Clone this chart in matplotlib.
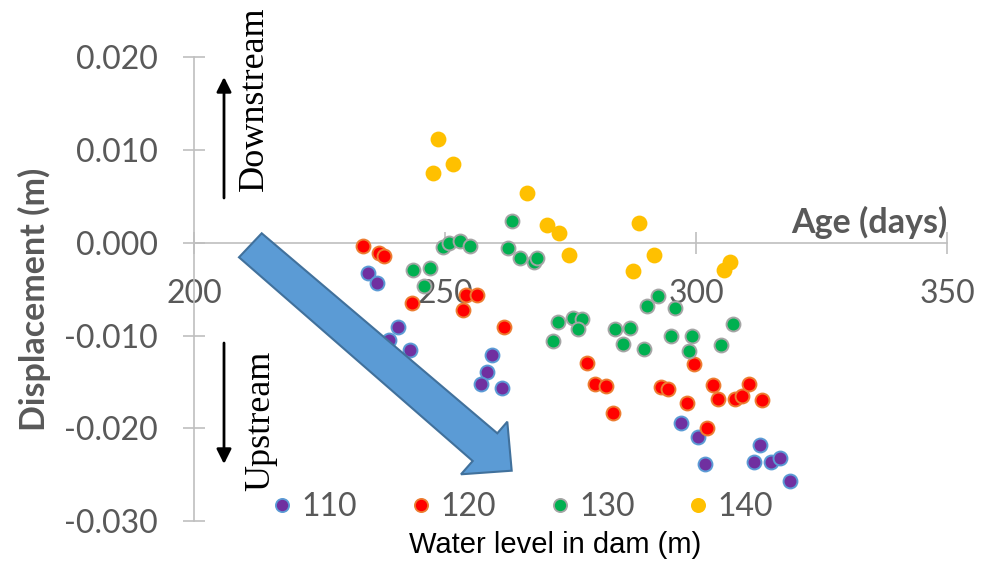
import matplotlib
matplotlib.use('Agg')
import matplotlib.pyplot as plt
from matplotlib.patches import Polygon
from matplotlib.lines import Line2D

# Age (days) / displacement (m) for each water level in the dam
age_110 = [234.7, 236.4, 240.6, 238.9, 243.0, 259.3, 258.3, 257.1, 261.3,
           297.0, 300.3, 301.8, 312.8, 311.5, 315.0, 316.7, 318.7]
disp_110 = [-0.0033, -0.0043, -0.0091, -0.0105, -0.0116, -0.0121, -0.0139, -0.0152, -0.0157,
            -0.0194, -0.0209, -0.0239, -0.0218, -0.0236, -0.0236, -0.0232, -0.0257]

age_120 = [233.7, 236.9, 237.9, 243.4, 254.1, 256.3, 253.6, 261.7, 278.2, 279.9, 282.0, 283.5,
           293.1, 294.5, 298.3, 299.7, 303.4, 304.4, 307.7, 309.1, 310.6, 313.2, 302.1]
disp_120 = [-0.0003, -0.0011, -0.0014, -0.0065, -0.0056, -0.0056, -0.0072, -0.0091, -0.0130,
            -0.0152, -0.0154, -0.0184, -0.0156, -0.0158, -0.0173, -0.0131, -0.0153, -0.0168,
            -0.0168, -0.0165, -0.0152, -0.0170, -0.0200]

age_130 = [243.7, 247.1, 245.8, 249.7, 250.7, 253.0, 255.0, 263.3, 262.5, 265.0, 267.8, 268.4,
           271.6, 272.6, 275.4, 277.3, 276.5, 283.9, 286.8, 285.5, 289.6, 290.3, 292.5, 295.0,
           295.9, 299.3, 298.6, 305.0, 307.3]
disp_130 = [-0.0029, -0.0027, -0.0047, -0.0005, 0.0000, 0.0002, -0.0004, 0.0024, -0.0006,
            -0.0016, -0.0021, -0.0016, -0.0106, -0.0085, -0.0081, -0.0082, -0.0093, -0.0093,
            -0.0092, -0.0109, -0.0115, -0.0068, -0.0057, -0.0101, -0.0070, -0.0100, -0.0117,
            -0.0110, -0.0088]

age_140 = [248.7, 251.5, 247.7, 266.3, 270.4, 272.8, 274.7, 288.6, 291.6, 287.4, 306.8, 305.5]
disp_140 = [0.0112, 0.0085, 0.0075, 0.0054, 0.0019, 0.0011, -0.0013, 0.0021, -0.0013,
            -0.0030, -0.0021, -0.0029]

levels = ['110', '120', '130', '140']
x_ticks = [200, 250, 300, 350]
y_ticks = [0.020, 0.010, 0.000, -0.010, -0.020, -0.030]

series = [(age_110, disp_110, '#7030A0', '#5B9BD5'),
          (age_120, disp_120, '#FF0000', '#ED7D31'),
          (age_130, disp_130, '#00B050', '#A5A5A5'),
          (age_140, disp_140, '#FFC000', '#FFC000')]

plt.rcParams['font.family'] = ['Lato', 'DejaVu Sans']
GREY = '#595959'
W, H = 992, 562


def px(x, y):
    # pixel position (from top-left) -> figure fraction
    return (x / W, 1 - y / H)


fig = plt.figure(figsize=(W / 100, H / 100), dpi=100)
ax = fig.add_axes([194 / W, 1 - 521 / H, (947 - 194) / W, (521 - 57.3) / H])

handles = []
for (xs, ys, fc, ec), lab in zip(series, levels):
    ax.scatter(xs, ys, s=100, c=fc, edgecolors=ec, linewidths=1.4, zorder=3)
    handles.append(Line2D([], [], ls='', marker='o', markersize=9.5, markerfacecolor=fc,
                          markeredgecolor=ec, markeredgewidth=1.3, label=lab))

ax.set_xlim(200, 350)
ax.set_ylim(-0.030, 0.020)
ax.set_xticks(x_ticks)
ax.set_yticks(y_ticks)
ax.set_yticklabels([f'{v:.3f}' for v in y_ticks])
ax.spines['top'].set_visible(False)
ax.spines['right'].set_visible(False)
ax.spines['bottom'].set_position(('data', 0))
for sp in ['left', 'bottom']:
    ax.spines[sp].set_color('#BFBFBF')
    ax.spines[sp].set_linewidth(1.2)
ax.tick_params(direction='inout', length=16, width=1.2, color='#BFBFBF',
               labelsize=23, labelcolor=GREY)
ax.tick_params(axis='x', pad=18)
ax.tick_params(axis='y', pad=18)

# axis titles
fig.text(*px(34, 299), 'Displacement (m)', rotation=90, ha='center', va='center',
         fontsize=24.5, fontweight='bold', color=GREY)
fig.text(*px(947, 222), 'Age (days)', ha='right', va='center',
         fontsize=24.5, fontweight='bold', color=GREY)

# legend + its caption
fig.legend(handles=handles, ncol=4, loc='center', bbox_to_anchor=px(523, 507),
           frameon=False, fontsize=23, labelcolor=GREY, handlelength=0.6,
           handletextpad=0.3, columnspacing=1.7, borderpad=0)
fig.text(*px(555, 545), 'Water level in dam (m)', ha='center', va='center',
         fontsize=21, color='black', family='Liberation Sans')

# direction annotations
ap = dict(arrowstyle='-|>', color='black', lw=2, mutation_scale=22, shrinkA=0, shrinkB=0)
ax.annotate('', xy=px(224, 77), xytext=px(224, 198), xycoords='figure fraction',
            textcoords='figure fraction', arrowprops=ap)
ax.annotate('', xy=px(224, 464), xytext=px(224, 343), xycoords='figure fraction',
            textcoords='figure fraction', arrowprops=ap)
fig.text(*px(254, 99), 'Downstream', rotation=90, ha='center', va='center',
         fontsize=26, family='Liberation Serif')
fig.text(*px(261, 421), 'Upstream', rotation=90, ha='center', va='center',
         fontsize=26, family='Liberation Serif')

# big trend arrow
arrow_pts = [(261.7, 233.3), (497.3, 433.3), (507.3, 421.7), (511.7, 470.7),
             (461, 474.3), (472.7, 461), (239, 257.3)]
fig.patches.append(Polygon([px(x, y) for x, y in arrow_pts], closed=True,
                           transform=fig.transFigure, facecolor='#5B9BD5',
                           edgecolor='#41719C', linewidth=1.5, zorder=5))

fig.savefig('out.png', dpi=100)
